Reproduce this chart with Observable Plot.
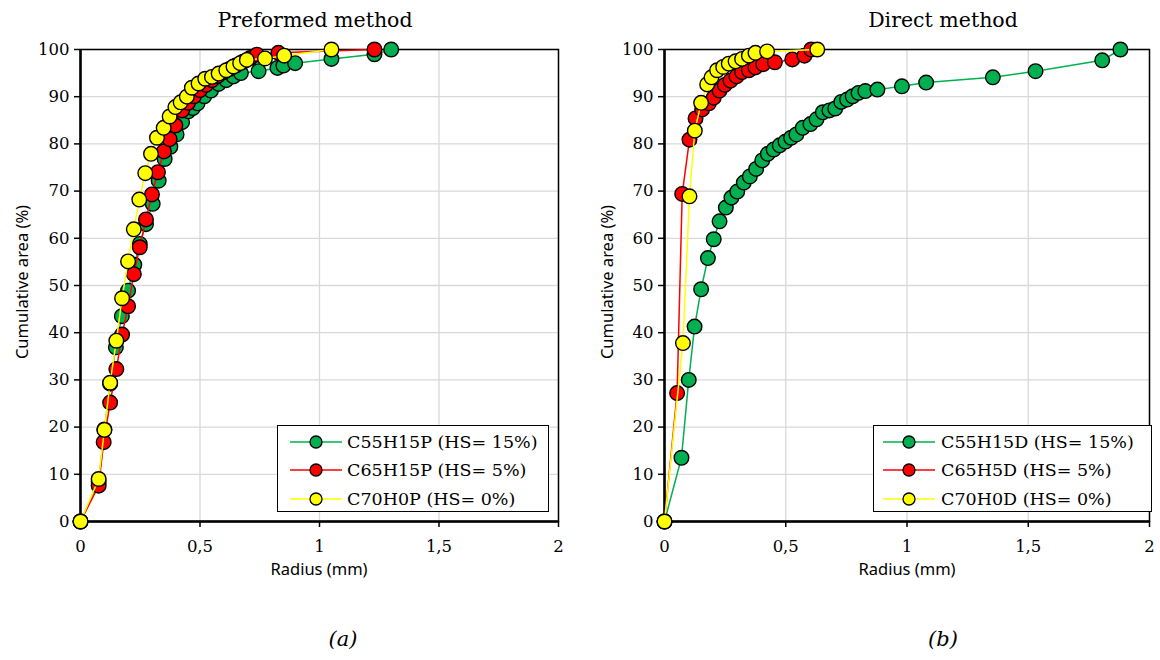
<!DOCTYPE html>
<html><head><meta charset="utf-8">
<script src="https://cdn.jsdelivr.net/npm/d3@7"></script>
<script src="https://cdn.jsdelivr.net/npm/@observablehq/plot@0.6"></script>
<style>
body{margin:0;background:#fff;width:1160px;height:660px;position:relative;overflow:hidden;font-family:"DejaVu Serif",serif;}
.abs{position:absolute;white-space:nowrap;}
.title{font-size:20.5px;color:#000;transform:translateX(-50%);}
.xlab{font-family:"Noto Sans",sans-serif;font-size:16.5px;transform:translateX(-50%);}
.ylab{font-family:"Noto Sans",sans-serif;font-size:16.5px;transform:translate(-50%,-50%) rotate(-90deg);}
.cap{font-size:21px;font-style:italic;transform:translateX(-50%);}
.legend{border:1.5px solid #000;background:#fff;box-sizing:border-box;}
.row{position:absolute;left:0;height:28px;display:flex;align-items:center;font-size:17.5px;}
.plotwrap{position:absolute;top:0;}
</style></head><body>
<script>
// ---- series names and colours ----
const namesP = ["C55H15P (HS= 15%)", "C65H15P (HS= 5%)", "C70H0P (HS= 0%)"];
const namesD = ["C55H15D (HS= 15%)", "C65H5D (HS= 5%)", "C70H0D (HS= 0%)"];
const colors = ["#00b050", "#ff0000", "#ffff00"];

// ---- data: Preformed method ----
const greenPx = [0, 0.076, 0.1, 0.124, 0.148, 0.173, 0.199, 0.225, 0.248, 0.274, 0.302, 0.327, 0.352, 0.376, 0.402, 0.425, 0.451, 0.47, 0.49, 0.518, 0.546, 0.578, 0.61, 0.64, 0.671, 0.745, 0.824, 0.849, 0.898, 1.05, 1.23, 1.3];
const greenPy = [0, 8.5, 19.5, 29.2, 36.9, 43.5, 48.9, 54.4, 58.8, 63, 67.3, 72.2, 76.8, 79.4, 82, 84.6, 86.9, 87.6, 88.6, 90.1, 91.3, 92.7, 93.5, 94.3, 95, 95.4, 96.1, 96.6, 97.1, 98, 99, 100];

const redPx = [0, 0.076, 0.097, 0.124, 0.15, 0.174, 0.199, 0.223, 0.248, 0.274, 0.299, 0.324, 0.349, 0.373, 0.397, 0.425, 0.45, 0.475, 0.5, 0.525, 0.55, 0.575, 0.6, 0.625, 0.65, 0.68, 0.71, 0.738, 0.828, 1.23];
const redPy = [0, 7.6, 16.8, 25.2, 32.3, 39.6, 45.6, 52.4, 58.1, 64, 69.3, 74, 78.4, 81, 83.9, 87.1, 88.7, 90.1, 91.4, 92.5, 93.5, 94.4, 95.2, 95.9, 96.6, 97.4, 98.2, 98.9, 99.3, 100];

const yellowPx = [0, 0.076, 0.1, 0.124, 0.15, 0.174, 0.199, 0.223, 0.246, 0.271, 0.295, 0.32, 0.348, 0.373, 0.397, 0.419, 0.445, 0.466, 0.494, 0.522, 0.55, 0.578, 0.61, 0.64, 0.668, 0.696, 0.772, 0.852, 1.05];
const yellowPy = [0, 9, 19.4, 29.4, 38.3, 47.3, 55.1, 61.9, 68.2, 73.8, 77.9, 81.3, 83.4, 85.8, 87.8, 88.8, 90, 91.9, 92.8, 93.8, 94.2, 94.9, 95.6, 96.4, 97.1, 97.8, 98.1, 98.7, 100];

// ---- data: Direct method ----
const greenDx = [0, 0.07, 0.1, 0.124, 0.151, 0.179, 0.203, 0.227, 0.253, 0.276, 0.3, 0.327, 0.352, 0.378, 0.403, 0.426, 0.45, 0.475, 0.499, 0.522, 0.544, 0.57, 0.602, 0.627, 0.653, 0.68, 0.704, 0.729, 0.753, 0.776, 0.8, 0.828, 0.878, 0.979, 1.079, 1.354, 1.53, 1.805, 1.88];
const greenDy = [0, 13.5, 30, 41.3, 49.2, 55.8, 59.8, 63.6, 66.5, 68.6, 69.9, 71.8, 73.1, 74.7, 76.5, 77.9, 78.8, 79.7, 80.5, 81.3, 82, 83.4, 84.2, 85.2, 86.7, 87.1, 87.5, 88.9, 89.4, 90.1, 90.8, 91.2, 91.5, 92.2, 93, 94.1, 95.4, 97.7, 100];

const redDx = [0, 0.052, 0.073, 0.103, 0.128, 0.155, 0.183, 0.203, 0.227, 0.249, 0.272, 0.297, 0.32, 0.348, 0.375, 0.407, 0.455, 0.527, 0.577, 0.605];
const redDy = [0, 27.2, 69.4, 80.9, 85.4, 87.3, 88.6, 89.8, 91.3, 92.5, 93.4, 94.3, 95.2, 95.6, 96.2, 96.9, 97.3, 97.9, 98.7, 100];

const yellowDx = [0, 0.076, 0.103, 0.125, 0.151, 0.176, 0.194, 0.217, 0.242, 0.265, 0.293, 0.32, 0.348, 0.375, 0.423, 0.63];
const yellowDy = [0, 37.8, 68.9, 82.8, 88.7, 92.6, 94.1, 95.6, 96.3, 97, 97.5, 98, 98.7, 99.3, 99.6, 100];

// ---- ticks ----
const xTicks = [0, 0.5, 1, 1.5, 2];
const yTicks = [0, 10, 20, 30, 40, 50, 60, 70, 80, 90, 100];

function toRows(xs, ys) { return xs.map((x, i) => ({x, y: ys[i]})); }

function panel(seriesList, mL, mR) {
  const marks = [
    Plot.gridX(xTicks, {stroke: "#d9d9d9", strokeOpacity: 1, strokeWidth: 1.3}),
    Plot.gridY(yTicks, {stroke: "#d9d9d9", strokeOpacity: 1, strokeWidth: 1.3}),
    Plot.frame({stroke: "#000", strokeWidth: 1.5}),
    Plot.axisY(yTicks, {tickSize: 6, tickPadding: 5, stroke: "#000", strokeWidth: 1.5, fontSize: 16.5, label: null}),
    Plot.axisX(xTicks, {tickSize: 6, tickPadding: 13, stroke: "#000", strokeWidth: 1.5, fontSize: 16.5, label: null,
      tickFormat: d => String(d).replace(".", ",")}),
    Plot.ruleX([0], {stroke: "#000", strokeWidth: 2.5}),
    Plot.ruleY([0], {stroke: "#000", strokeWidth: 2.5})
  ];
  seriesList.forEach((s, i) => {
    const rows = toRows(s[0], s[1]);
    marks.push(Plot.line(rows, {x: "x", y: "y", stroke: colors[i], strokeWidth: 1.5}));
    marks.push(Plot.dot(rows, {x: "x", y: "y", r: 7.3, fill: colors[i], stroke: "#000", strokeWidth: 1.4}));
  });
  return Plot.plot({
    width: 580, height: 570,
    marginLeft: mL, marginRight: mR, marginTop: 49, marginBottom: 49,
    x: {domain: [0, 2]}, y: {domain: [0, 100]},
    style: {fontFamily: "DejaVu Serif", fontSize: "16.5px", color: "#000", background: "transparent"},
    marks
  });
}

function addPlot(svg, left) {
  const d = document.createElement("div");
  d.className = "plotwrap";
  d.style.left = left + "px";
  d.appendChild(svg);
  document.body.appendChild(d);
}
function addText(cls, text, left, top) {
  const d = document.createElement("div");
  d.className = "abs " + cls;
  d.style.left = left + "px"; d.style.top = top + "px";
  d.textContent = text;
  document.body.appendChild(d);
}
function addLegend(names, left, top, width, lineX0, lineX1, textX) {
  const box = document.createElement("div");
  box.className = "abs legend";
  box.style.left = left + "px"; box.style.top = top + "px";
  box.style.width = width + "px"; box.style.height = "87px";
  const rowsY = [2, 30, 59];
  names.forEach((n, i) => {
    const r = document.createElement("div");
    r.className = "row";
    r.style.top = rowsY[i] + "px";
    const w = lineX1 - lineX0;
    r.innerHTML = `<svg width="${textX}" height="28" style="flex:none"><line x1="${lineX0}" x2="${lineX1}" y1="14" y2="14" stroke="${colors[i]}" stroke-width="1.5"/><circle cx="${lineX0 + w/2}" cy="14" r="6" fill="${colors[i]}" stroke="#000" stroke-width="1.3"/></svg><span></span>`;
    r.querySelector("span").textContent = n;
    box.appendChild(r);
  });
  document.body.appendChild(box);
}

addPlot(panel([[greenPx, greenPy], [redPx, redPy], [yellowPx, yellowPy]], 80, 22), 0);
addPlot(panel([[greenDx, greenDy], [redDx, redDy], [yellowDx, yellowDy]], 84, 11), 580);

addText("title", "Preformed method", 315, 8);
addText("title", "Direct method", 943, 8);
addText("xlab", "Radius (mm)", 319, 557);
addText("xlab", "Radius (mm)", 907, 557);
addText("ylab", "Cumulative area (%)", 21, 282);
addText("ylab", "Cumulative area (%)", 606, 282);
addText("cap", "(a)", 343, 627);
addText("cap", "(b)", 943, 627);
addLegend(namesP, 277, 425, 272, 12, 64, 69);
addLegend(namesD, 873, 425, 279, 9, 61, 67);
</script>
</body></html>
